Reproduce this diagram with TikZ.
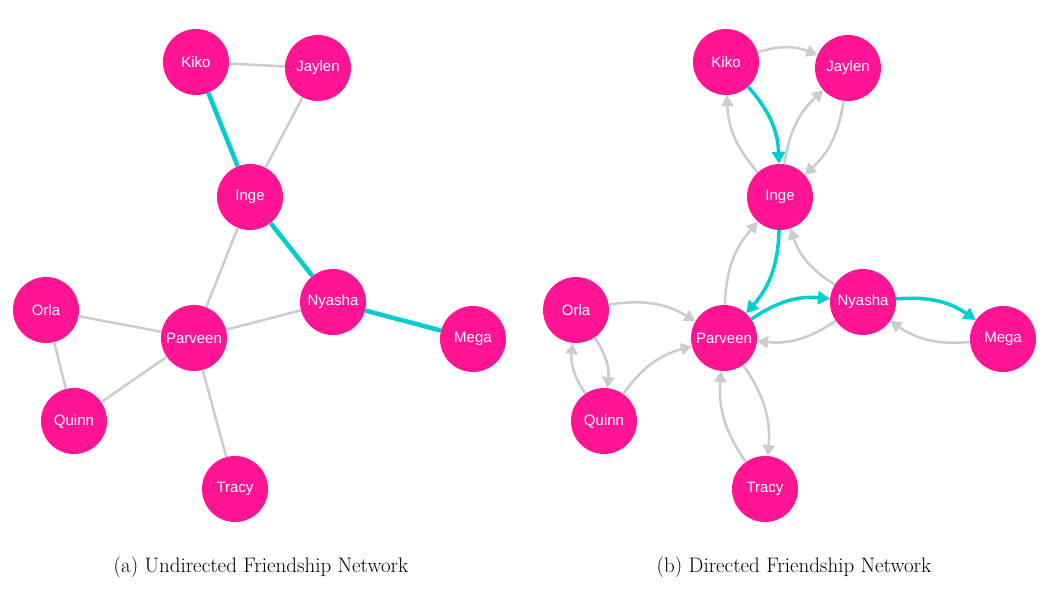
\documentclass[tikz,border=0pt]{standalone}
\usepackage{fontspec}
\newfontfamily\nodefont{Liberation Sans}
\usetikzlibrary{arrows.meta}
\definecolor{nodepink}{HTML}{FF1493}
\definecolor{edgecyan}{HTML}{00CED1}
\definecolor{edgegray}{HTML}{CCCCCC}
\begin{document}
\begin{tikzpicture}[x=1pt,y=-1pt,
  person/.style={circle, fill=nodepink, minimum size=66pt, inner sep=0pt, text=white, font=\nodefont\fontsize{15}{18}\selectfont},
  uline/.style={draw=edgegray, line width=2.5pt},
  uhot/.style={draw=edgecyan, line width=4.5pt},
  dline/.style={draw=edgegray, line width=2.5pt, -{Triangle[length=11pt,width=12pt]}, bend left=20},
  dhot/.style={draw=edgecyan, line width=3.5pt, -{Triangle[length=12pt,width=13pt]}, bend left=20},
  captext/.style={font=\fontsize{21}{25}\selectfont}]
\useasboundingbox (0,0) rectangle (1040,589);
% left panel
\node[person] (aKiko) at (196,62) {Kiko};
\node[person] (aJaylen) at (318,68) {Jaylen};
\node[person] (aInge) at (250,197) {Inge};
\node[person] (aNyasha) at (333,302) {Nyasha};
\node[person] (aMega) at (473,339) {Mega};
\node[person] (aOrla) at (46,310) {Orla};
\node[person] (aParveen) at (194,338) {Parveen};
\node[person] (aQuinn) at (74,421) {Quinn};
\node[person] (aTracy) at (235,489) {Tracy};
\draw[uline] (aKiko) -- (aJaylen);
\draw[uhot] (aKiko) -- (aInge);
\draw[uline] (aJaylen) -- (aInge);
\draw[uline] (aInge) -- (aParveen);
\draw[uhot] (aInge) -- (aNyasha);
\draw[uline] (aNyasha) -- (aParveen);
\draw[uhot] (aNyasha) -- (aMega);
\draw[uline] (aOrla) -- (aParveen);
\draw[uline] (aOrla) -- (aQuinn);
\draw[uline] (aQuinn) -- (aParveen);
\draw[uline] (aParveen) -- (aTracy);
% right panel
\node[person] (bKiko) at (726,62) {Kiko};
\node[person] (bJaylen) at (848,68) {Jaylen};
\node[person] (bInge) at (780,197) {Inge};
\node[person] (bNyasha) at (863,302) {Nyasha};
\node[person] (bMega) at (1003,339) {Mega};
\node[person] (bOrla) at (576,310) {Orla};
\node[person] (bParveen) at (724,338) {Parveen};
\node[person] (bQuinn) at (604,421) {Quinn};
\node[person] (bTracy) at (765,489) {Tracy};
\draw[dline] (bKiko) to (bJaylen);
\draw[dhot] (bKiko) to (bInge);
\draw[dline] (bInge) to (bKiko);
\draw[dline] (bInge) to (bJaylen);
\draw[dline] (bJaylen) to (bInge);
\draw[dhot] (bInge) to (bParveen);
\draw[dline] (bParveen) to (bInge);
\draw[dline] (bNyasha) to (bInge);
\draw[dhot] (bParveen) to (bNyasha);
\draw[dline] (bNyasha) to (bParveen);
\draw[dhot] (bNyasha) to (bMega);
\draw[dline] (bMega) to (bNyasha);
\draw[dline] (bOrla) to (bParveen);
\draw[dline] (bOrla) to (bQuinn);
\draw[dline] (bQuinn) to (bOrla);
\draw[dline] (bQuinn) to (bParveen);
\draw[dline] (bParveen) to (bTracy);
\draw[dline] (bTracy) to (bParveen);
% captions
\node[captext] (capa) at (261,567) {(a) Undirected Friendship Network};
\node[captext] (capb) at (794,567) {(b) Directed Friendship Network};
\end{tikzpicture}
\end{document}
